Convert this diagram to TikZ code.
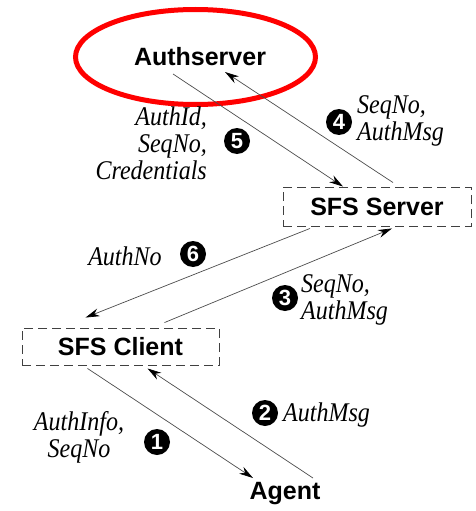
\documentclass[tikz,border=0pt]{standalone}
\usepackage{fontspec}
\setmainfont{Liberation Serif}
\setsansfont{Liberation Sans}
\newfontfamily\msgfont{Liberation Serif}[FakeStretch=0.89]
\usetikzlibrary{arrows.meta}

\begin{document}
\begin{tikzpicture}[x=1pt,y=-1pt]
\tikzset{party style/.style={font=\sffamily\bfseries\fontsize{25}{30}\selectfont, inner sep=2pt}}
\tikzset{box style/.style={party style, draw=black!75, dash pattern=on 9pt off 5pt, line width=0.9pt}}
\tikzset{msg style/.style={font=\msgfont\itshape\fontsize{27}{27}\selectfont, align=left, inner sep=0pt}}
\tikzset{num style/.style={circle, fill=black, text=white, inner sep=0pt, minimum size=26pt, font=\sffamily\bfseries\fontsize{22}{22}\selectfont}}
\tikzset{arr style/.style={draw=black!70, line width=0.7pt, -{Stealth[length=14pt, width=8pt, color=black]}}}
\useasboundingbox (0,0) rectangle (475,511);

\node[party style] (auth) at (200,57) {Authserver};
\node[box style, minimum width=188pt, minimum height=39pt] (server) at (377,206.5) {SFS Server};
\node[box style, minimum width=197pt, minimum height=37pt] (client) at (120.5,346.5) {SFS Client};
\node[party style] (agent) at (285,494) {Agent};
\draw[red, line width=5pt] (195.5,57) ellipse [x radius=120pt, y radius=47.5pt];

\draw[arr style] ([shift={(-27,17)}]auth.center) -- ([shift={(-34,0)}]server.north);
\draw[arr style] ([shift={(16,-4)}]server.north) -- ([shift={(25,15)}]auth.center);
\draw[arr style] ([shift={(-67,2)}]server.south) -- ([shift={(-35,-10)}]client.north);
\draw[arr style] ([shift={(44,-5)}]client.north) -- ([shift={(15,2)}]server.south);
\draw[arr style] ([shift={(-33,3)}]client.south) -- ([shift={(-32,-16)}]agent.center);
\draw[arr style] ([shift={(28,-16)}]agent.center) -- ([shift={(27,3)}]client.south);

% message labels
\node[num style] (n1) at (157,442) {1};
\node[msg style, align=center] (m1) at (79,437) {AuthInfo,\\SeqNo};
\node[num style] (n2) at (265,413) {2};
\node[msg style, anchor=west] (m2) at (283,415) {AuthMsg};
\node[num style] (n3) at (285,298) {3};
\node[msg style, anchor=west] (m3) at (301,300) {SeqNo,\\AuthMsg};
\node[num style] (n4) at (339,122) {4};
\node[msg style, anchor=west] (m4) at (357,121) {SeqNo,\\AuthMsg};
\node[num style] (n5) at (237,141) {5};
\node[msg style, align=right, anchor=east] (m5) at (207,143) {AuthId,\\SeqNo,\\Credentials};
\node[num style] (n6) at (193,254) {6};
\node[msg style] (m6) at (125,256) {AuthNo};
\end{tikzpicture}
\end{document}
